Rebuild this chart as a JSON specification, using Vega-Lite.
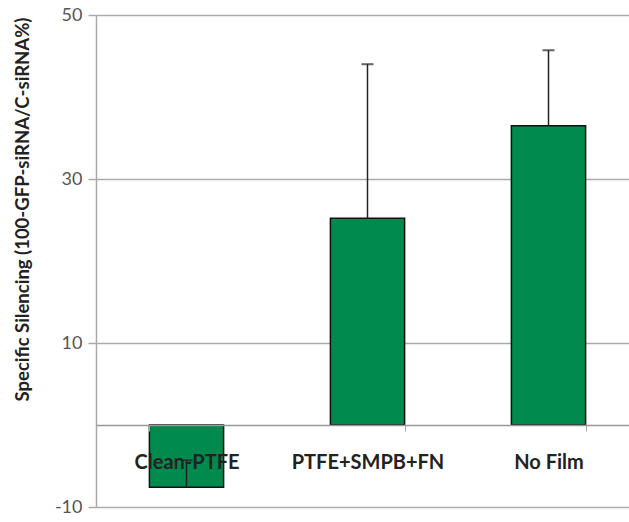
{
  "$schema": "https://vega.github.io/schema/vega-lite/v6.json",
  "width": 533,
  "height": 492,
  "autosize": {"type": "none"},
  "padding": {"left": 96, "top": 15, "right": 0, "bottom": 15},
  "background": "white",
  "config": {"view": {"stroke": null}, "font": "Lato"},
  "data": {
    "values": [
      {"group": "Clean-PTFE", "value": -7.6, "upper": -4.3},
      {"group": "PTFE+SMPB+FN", "value": 25.2, "upper": 44.0},
      {"group": "No Film", "value": 36.5, "upper": 45.7}
    ]
  },
  "encoding": {
    "x": {
      "field": "group",
      "type": "nominal",
      "sort": null,
      "scale": {"range": [0, 543], "paddingInner": 0.59, "paddingOuter": 0.295},
      "axis": {
        "title": null,
        "labelAngle": 0,
        "labelFont": "Lato",
        "labelFontSize": 20,
        "labelFontWeight": "bold",
        "labelColor": "#222222",
        "labelPadding": 21,
        "offset": -82,
        "tickBand": "extent",
        "tickSize": 6,
        "tickColor": "#aaaaaa",
        "domainColor": "#999999",
        "domainWidth": 1.5,
        "grid": false,
        "zindex": 2
      }
    }
  },
  "layer": [
    {
      "mark": {"type": "bar", "color": "#008A4E", "stroke": "#111111", "strokeWidth": 1.5},
      "encoding": {
        "y": {
          "field": "value",
          "type": "quantitative",
          "scale": {"domain": [-10, 50], "nice": false, "zero": false},
          "axis": {
            "values": [-10, 10, 30, 50],
            "labelExpr": "'' + datum.value",
            "title": "Specific Silencing (100-GFP-siRNA/C-siRNA%)",
            "titleFont": "Lato",
            "titleFontSize": 18.5,
            "titleFontWeight": "bold",
            "titleColor": "#222222",
            "titleY": 194,
            "labelFont": "Lato",
            "labelFontSize": 18,
            "labelColor": "#555555",
            "labelPadding": 6,
            "tickSize": 8,
            "tickColor": "#aaaaaa",
            "tickWidth": 1.5,
            "domainColor": "#aaaaaa",
            "domainWidth": 1.5,
            "gridColor": "#aaaaaa",
            "gridWidth": 1.5,
            "titlePadding": 22,
            "zindex": 0
          }
        }
      }
    },
    {
      "mark": {"type": "rule", "color": "#222222", "strokeWidth": 1.5},
      "encoding": {
        "y": {"field": "value", "type": "quantitative"},
        "y2": {"field": "upper"}
      }
    },
    {
      "mark": {"type": "tick", "color": "#222222", "thickness": 2, "size": 12, "orient": "horizontal"},
      "encoding": {
        "y": {"field": "upper", "type": "quantitative"}
      }
    }
  ]
}
